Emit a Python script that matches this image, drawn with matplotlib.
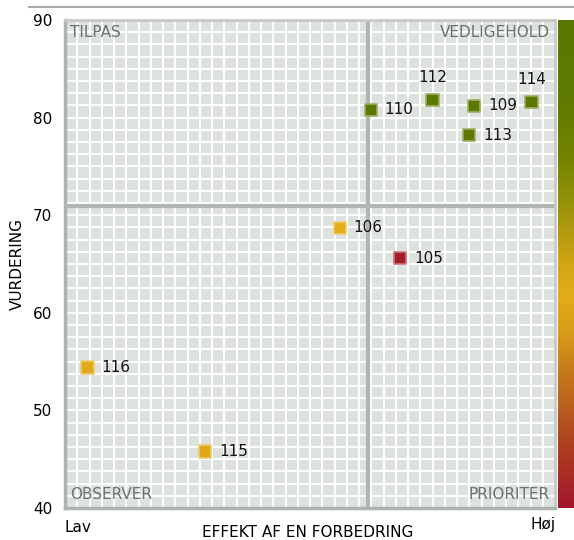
import numpy as np
import matplotlib
matplotlib.use("Agg")
import matplotlib.pyplot as plt
from matplotlib.colors import LinearSegmentedColormap, to_rgba
from matplotlib.lines import Line2D

# data
ids = ["110", "112", "109", "114", "113", "106", "105", "116", "115"]
effekt = [62.4, 75.0, 83.5, 95.2, 82.5, 56.1, 68.4, 4.6, 28.6]
vurdering = [80.8, 81.8, 81.2, 81.6, 78.2, 68.7, 65.6, 54.4, 45.8]
score = [0.95, 0.95, 0.95, 0.95, 0.95, 0.44, 0.02, 0.42, 0.42]
above = ["112", "114"]

x_split = 61.9
y_split = 70.9

cmap = LinearSegmentedColormap.from_list("risk", [
    (0.00, "#a3162b"), (0.15, "#b0481f"), (0.29, "#c97f1b"),
    (0.37, "#d9a018"), (0.44, "#e2ad18"), (0.50, "#d2a515"),
    (0.57, "#b09a10"), (0.64, "#8f9008"), (0.71, "#788500"),
    (0.78, "#687e00"), (0.85, "#5e7a00"), (1.00, "#5a7800"),
])

plt.rcParams["font.family"] = "DejaVu Sans"
fig = plt.figure(figsize=(5.74, 5.40), dpi=100)
ax = fig.add_axes([65 / 574, 32 / 540, 490 / 574, 488 / 540])
cax = fig.add_axes([558 / 574, 32 / 540, 16 / 574, 488 / 540])

ax.set_facecolor("#dde2df")
ax.set_xlim(0, 100)
ax.set_ylim(40, 90)
ax.set_xticks(np.arange(0, 100.1, 2.5))
ax.set_xticklabels([])
ax.set_yticks(np.arange(40, 91, 10))
ax.set_yticks(np.arange(40, 90.1, 1.25), minor=True)
ax.tick_params(which="both", length=0)
ax.tick_params(axis="y", labelsize=11, pad=9)
ax.grid(which="both", color="white", lw=1.5)
ax.set_axisbelow(True)
for s in ["left", "bottom"]:
    ax.spines[s].set_color("#aeb3b0")
    ax.spines[s].set_linewidth(2.5)
for s in ["top", "right"]:
    ax.spines[s].set_color("#c6cac7")
    ax.spines[s].set_linewidth(2)

ax.axvline(x_split, color="#b1b6b3", lw=3, zorder=1.5)
ax.axhline(y_split, color="#b1b6b3", lw=3, zorder=1.5)

face = [cmap(v) for v in score]
edge = [tuple(0.6 * np.array(to_rgba(c)) + 0.4) for c in face]
ax.scatter(effekt, vurdering, marker="s", s=78, c=face, edgecolors=edge,
           linewidths=1.2, zorder=3)
for name, x, y in zip(ids, effekt, vurdering):
    if name in above:
        ax.annotate(name, (x, y), xytext=(0, 16.5), textcoords="offset points",
                    ha="center", va="center", fontsize=11, color="#111111")
    else:
        ax.annotate(name, (x, y), xytext=(10, 0), textcoords="offset points",
                    ha="left", va="center", fontsize=11, color="#111111")

qc = "#69726d"
ax.text(0.01, 0.99, "TILPAS", transform=ax.transAxes, ha="left", va="top", fontsize=11, color=qc)
ax.text(0.99, 0.99, "VEDLIGEHOLD", transform=ax.transAxes, ha="right", va="top", fontsize=11, color=qc)
ax.text(0.01, 0.012, "OBSERVER", transform=ax.transAxes, ha="left", va="bottom", fontsize=11, color=qc)
ax.text(0.99, 0.012, "PRIORITER", transform=ax.transAxes, ha="right", va="bottom", fontsize=11, color=qc)

# colour scale bar
grad = np.linspace(0, 1, 256).reshape(-1, 1)
cax.imshow(grad, aspect="auto", cmap=cmap, origin="lower")
cax.set_axis_off()

fig.text(0.0296, 0.511, "VURDERING", rotation=90, ha="center", va="center", fontsize=11)
fig.text(308 / 574, 0.013, "EFFEKT AF EN FORBEDRING", ha="center", va="center", fontsize=11)
fig.text(78 / 574, 0.024, "Lav", ha="center", va="center", fontsize=11)
fig.text(543 / 574, 0.028, "Høj", ha="center", va="center", fontsize=11)
fig.add_artist(Line2D([29 / 574, 1], [1 - 7 / 540] * 2, color="#a6acaa", lw=1.5))

fig.savefig("out.png", dpi=100)
